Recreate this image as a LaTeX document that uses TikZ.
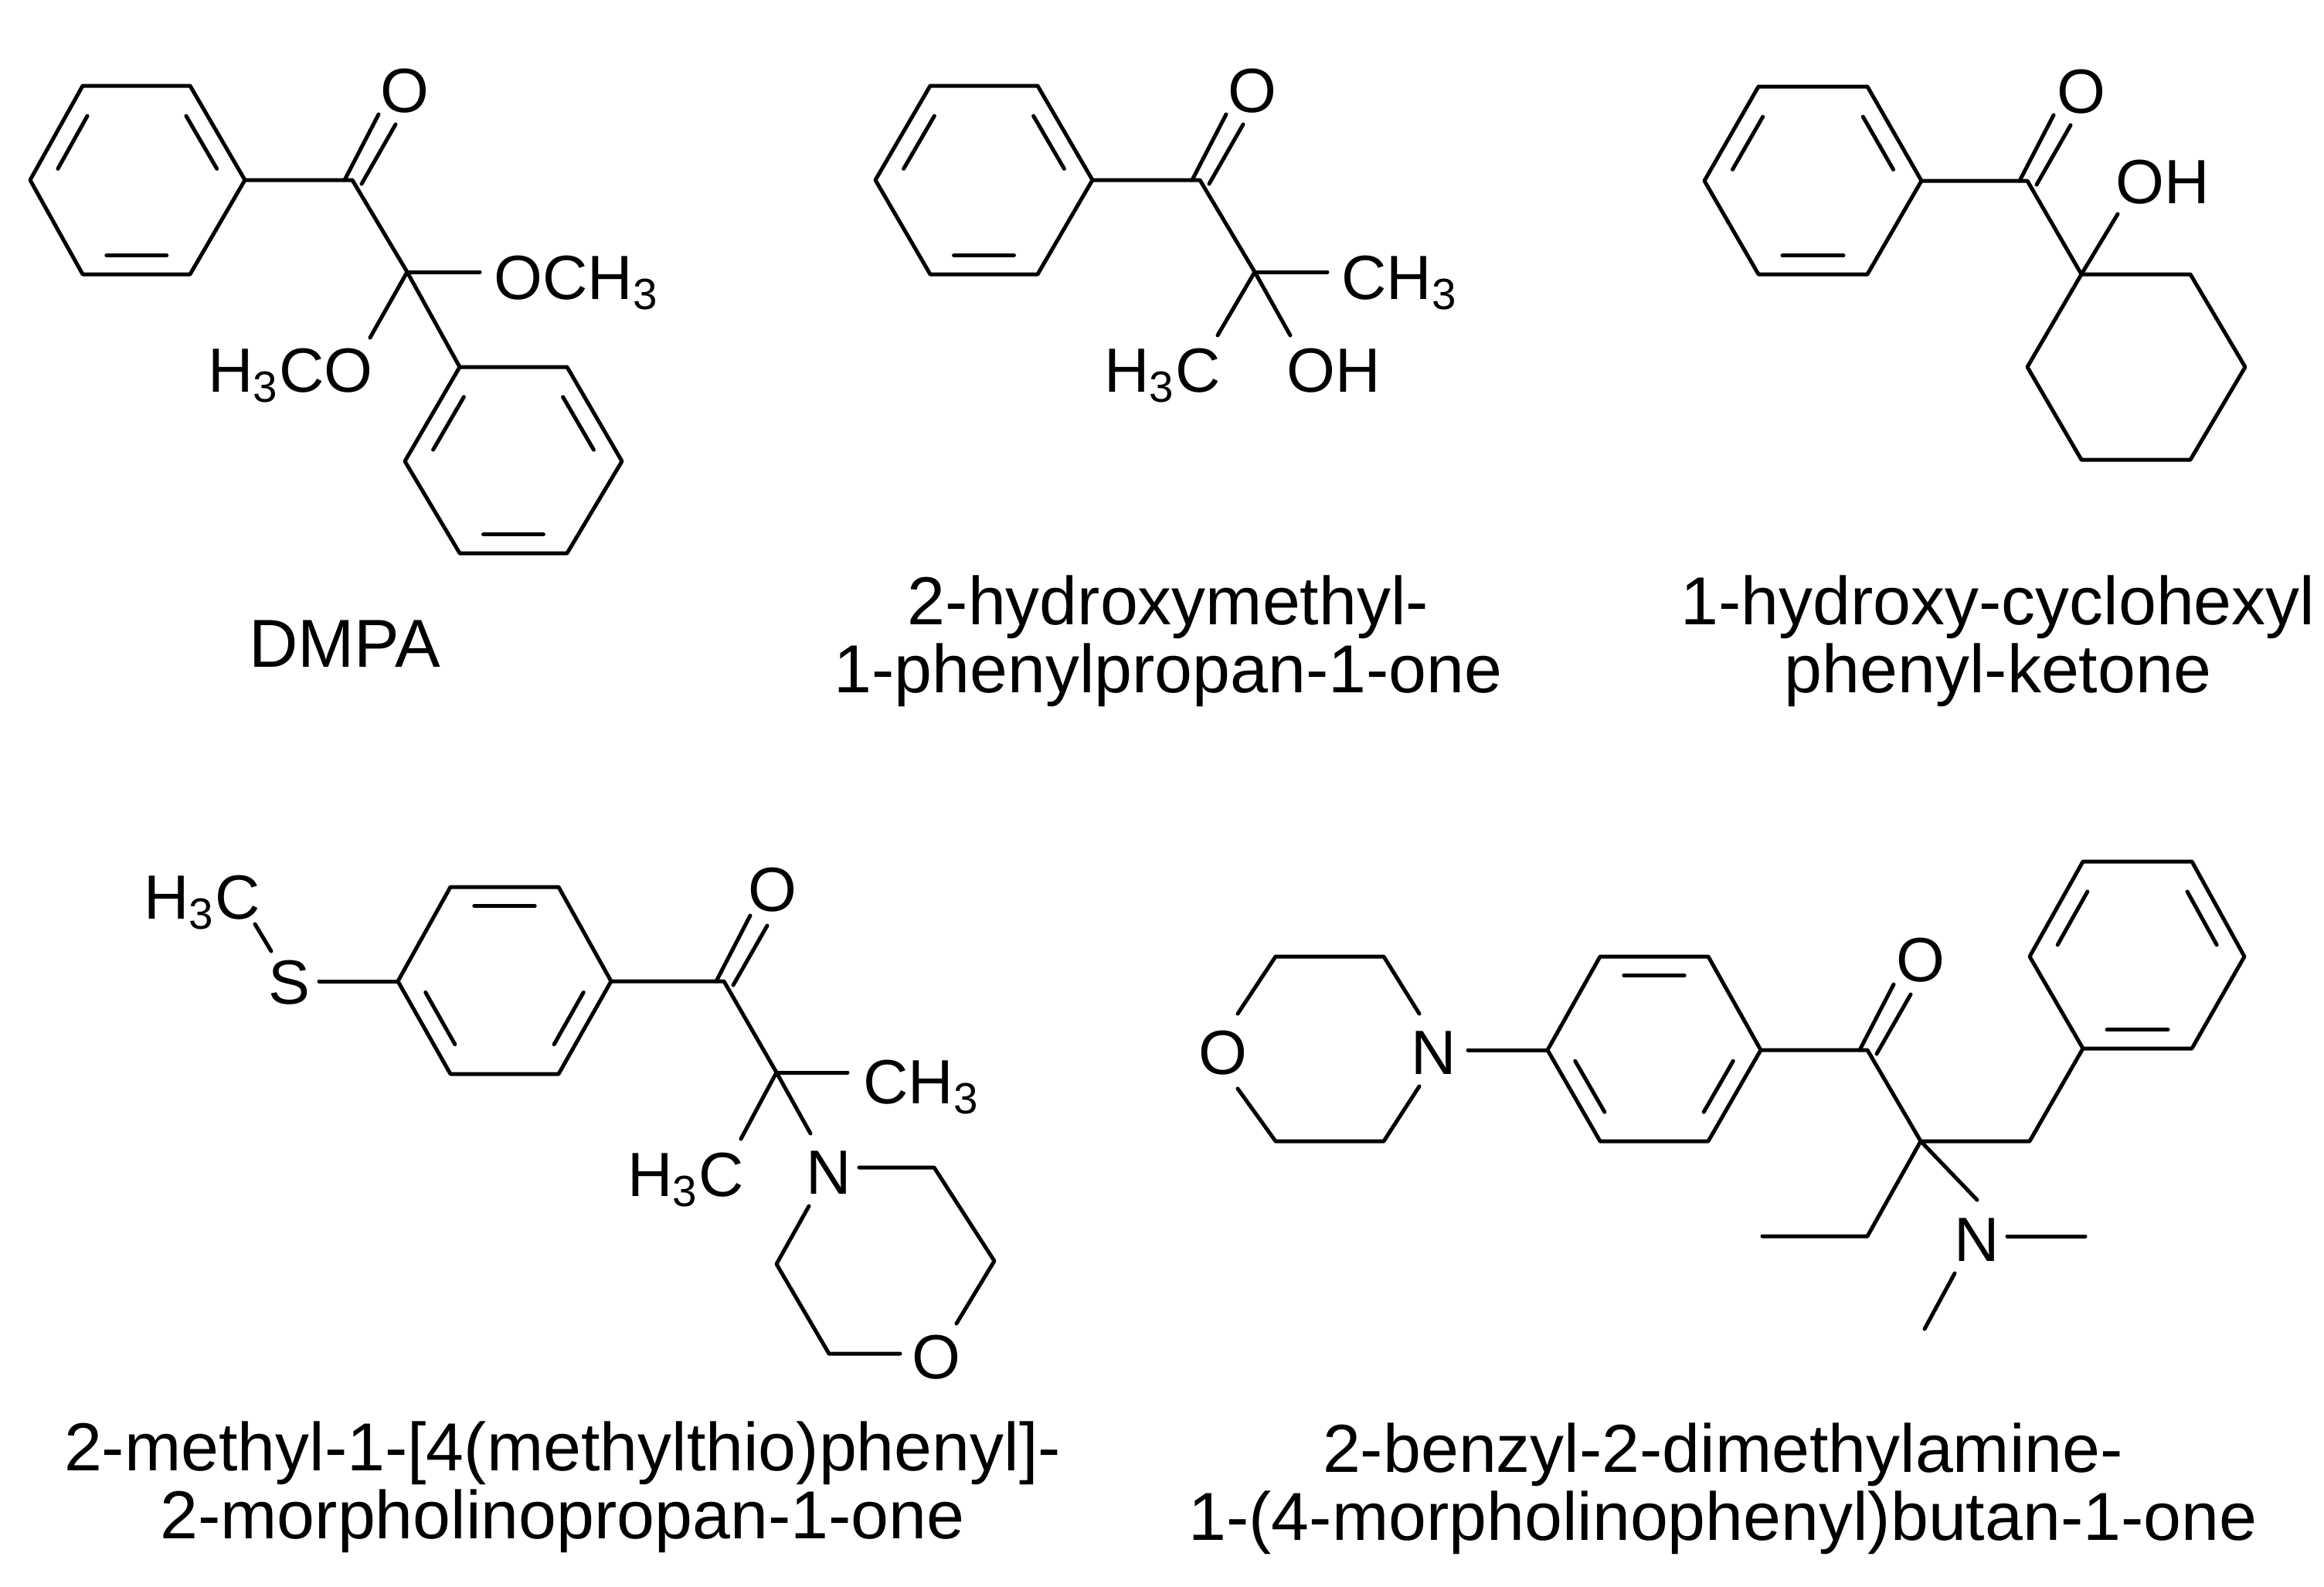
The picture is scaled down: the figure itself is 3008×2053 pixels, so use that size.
\documentclass[tikz,border=0pt]{standalone}
\usepackage{fontspec}
\setmainfont{Liberation Sans}
\usetikzlibrary{calc}
\begin{document}
\begin{tikzpicture}[x=0.01cm,y=-0.01cm,line width=0.05cm,line join=round,line cap=round,
 atom/.style={font=\fontsize{23}{23}\selectfont,inner sep=0pt},
 caption/.style={font=\fontsize{25}{25}\selectfont,inner sep=0pt,align=center}]
\useasboundingbox (0,0) rectangle (3008,2053);
\newcommand{\ring}[7]{% name prefix, 6 coords
 \coordinate (#1a) at #2; \coordinate (#1b) at #3; \coordinate (#1c) at #4;
 \coordinate (#1d) at #5; \coordinate (#1e) at #6; \coordinate (#1f) at #7;
 \coordinate (#1o) at ($(#1a)!0.5!(#1d)$);
 \draw (#1a)--(#1b)--(#1c)--(#1d)--(#1e)--(#1f)--cycle;}
\newcommand{\inner}[3]{\draw ($(#1)!0.15!(#2)!0.2!(#3)$) -- ($(#1)!0.85!(#2)!0.2!(#3)$);}
\newcommand{\carbonyl}[1]{\draw ($(#1)+(-10,0)$) -- ($(#1)+(34,-85)$); \draw ($(#1)+(12,5)$) -- ($(#1)+(56,-72)$);}
% ===== DMPA
\ring{A}{(39,233)}{(107,111)}{(246,111)}{(317,233)}{(246,355)}{(107,355)}
\inner{Aa}{Ab}{Ao}\inner{Ac}{Ad}{Ao}\inner{Ae}{Af}{Ao}
\coordinate (A1) at (456,233); \coordinate (A2) at (527,352);
\draw (Ad)--(A1)--(A2);
\carbonyl{A1}
\node[atom,anchor=base] (AO) at (524,145) {O};
\coordinate (A3) at (621,352); \draw (A2)--(A3);
\node[atom,anchor=base west] (AOMe) at (637,387) {OCH\textsubscript{3}};
\coordinate (A4) at (479,437); \draw (A2)--(A4);
\node[atom,anchor=base east] (AMeO) at (485,507) {H\textsubscript{3}CO};
\ring{B}{(595,475)}{(734,475)}{(805,597)}{(734,716)}{(595,716)}{(524,597)}
\inner{Bf}{Ba}{Bo}\inner{Bb}{Bc}{Bo}\inner{Bd}{Be}{Bo}
\draw (A2)--(Ba);
\node[caption] (Alab) at (446,833) {DMPA};
% ===== molecule 2
\ring{C}{(1133,233)}{(1204,111)}{(1343,111)}{(1414,233)}{(1343,355)}{(1204,355)}
\inner{Ca}{Cb}{Co}\inner{Cc}{Cd}{Co}\inner{Ce}{Cf}{Co}
\coordinate (C1) at (1553,233); \coordinate (C2) at (1624,352);
\draw (Cd)--(C1)--(C2); \carbonyl{C1}
\node[atom,anchor=base] (CO) at (1621,145) {O};
\coordinate (C3) at (1718,352); \draw (C2)--(C3);
\node[atom,anchor=base west] (CMe) at (1734,387) {CH\textsubscript{3}};
\coordinate (C4) at (1576,434); \draw (C2)--(C4);
\node[atom,anchor=base east] (CMe2) at (1582,507) {H\textsubscript{3}C};
\coordinate (C5) at (1670,434); \draw (C2)--(C5);
\node[atom,anchor=base west] (COH) at (1663,507) {OH};
\node[caption] (Clab) at (1512,830) {2-hydroxymethyl-\\1-phenylpropan-1-one};
% ===== molecule 3
\ring{D}{(2206,234)}{(2276,112)}{(2417,112)}{(2487,234)}{(2417,355)}{(2276,355)}
\inner{Da}{Db}{Do}\inner{Dc}{Dd}{Do}\inner{De}{Df}{Do}
\coordinate (D1) at (2624,234);
\ring{E}{(2694,355)}{(2835,355)}{(2906,475)}{(2835,595)}{(2694,595)}{(2624,475)}
\draw (Dd)--(D1)--(Ea); \carbonyl{D1}
\node[atom,anchor=base] (DO) at (2694,146) {O};
\coordinate (D3) at (2741,277); \draw (Ea)--(D3);
\node[atom,anchor=base west] (DOH) at (2736,263) {OH};
\node[caption] (Dlab) at (2586,830) {1-hydroxy-cyclohexyl\\phenyl-ketone};
% ===== molecule 4
\node[atom,anchor=base west] (FMe) at (184,1189) {H\textsubscript{3}C};
\node[atom,anchor=base] (FS) at (374,1299) {S};
\coordinate (F1) at (330,1196); \coordinate (F2) at (351,1231); \draw (F1)--(F2);
\ring{G}{(515,1270)}{(583,1148)}{(723,1148)}{(791,1270)}{(723,1390)}{(583,1390)}
\inner{Gb}{Gc}{Go}\inner{Gd}{Ge}{Go}\inner{Gf}{Ga}{Go}
\coordinate (F3) at (413,1270); \draw (F3)--(Ga);
\coordinate (G1) at (937,1270); \coordinate (G2) at (1005,1388);
\draw (Gd)--(G1)--(G2); \carbonyl{G1}
\node[atom,anchor=base] (GO) at (1000,1179) {O};
\coordinate (G3) at (1097,1388); \draw (G2)--(G3);
\node[atom,anchor=base west] (GMe) at (1115,1428) {CH\textsubscript{3}};
\coordinate (G4) at (959,1474); \draw (G2)--(G4);
\node[atom,anchor=base east] (GMe2) at (965,1548) {H\textsubscript{3}C};
\coordinate (G5) at (1049,1467); \draw (G2)--(G5);
\node[atom,anchor=base] (GN) at (1073,1545) {N};
\node[atom,anchor=base] (GOm) at (1212,1784) {O};
\coordinate (m1) at (1112,1511); \coordinate (m2) at (1209,1511); \coordinate (m3) at (1287,1632);
\coordinate (m4) at (1238,1713); \coordinate (m5) at (1165,1752); \coordinate (m6) at (1073,1752);
\coordinate (m7) at (1005,1636); \coordinate (m8) at (1047,1561);
\draw (m1)--(m2)--(m3)--(m4); \draw (m5)--(m6)--(m7)--(m8);
\node[caption] (Glab) at (728,1925) {2-methyl-1-[4(methylthio)phenyl]-\\2-morpholinopropan-1-one};
% ===== molecule 5
\node[atom,anchor=base] (HO) at (1583,1390) {O};
\node[atom,anchor=base] (HN) at (1856,1390) {N};
\coordinate (n1) at (1602,1312); \coordinate (n2) at (1651,1238); \coordinate (n3) at (1791,1238); \coordinate (n4) at (1837,1312);
\coordinate (n5) at (1602,1409); \coordinate (n6) at (1651,1477); \coordinate (n7) at (1791,1477); \coordinate (n8) at (1837,1406);
\draw (n1)--(n2)--(n3)--(n4); \draw (n5)--(n6)--(n7)--(n8);
\ring{I}{(2003,1359)}{(2071,1238)}{(2211,1238)}{(2279,1359)}{(2211,1477)}{(2071,1477)}
\inner{Ib}{Ic}{Io}\inner{Id}{Ie}{Io}\inner{If}{Ia}{Io}
\coordinate (H1) at (1900,1359); \draw (H1)--(Ia);
\coordinate (I1) at (2417,1359); \coordinate (I2) at (2486,1477);
\draw (Id)--(I1)--(I2); \carbonyl{I1}
\node[atom,anchor=base] (IO) at (2486,1270) {O};
\coordinate (I3) at (2627,1477);
\ring{J}{(2696,1357)}{(2837,1357)}{(2905,1238)}{(2837,1115)}{(2696,1115)}{(2627,1238)}
\inner{Ja}{Jb}{Jo}\inner{Jc}{Jd}{Jo}\inner{Je}{Jf}{Jo}
\draw (I2)--(I3)--(Ja);
\coordinate (I4) at (2417,1600); \coordinate (I5) at (2281,1600);
\draw (I2)--(I4)--(I5);
\coordinate (I6) at (2559,1553); \draw (I2)--(I6);
\node[atom,anchor=base] (IN) at (2559,1632) {N};
\coordinate (I7) at (2598,1600); \coordinate (I8) at (2699,1600); \draw (I7)--(I8);
\coordinate (I9) at (2530,1648); \coordinate (I10) at (2491,1720); \draw (I9)--(I10);
\node[caption] (Ilab) at (2230,1927) {2-benzyl-2-dimethylamine-\\1-(4-morpholinophenyl)butan-1-one};
\end{tikzpicture}
\end{document}
